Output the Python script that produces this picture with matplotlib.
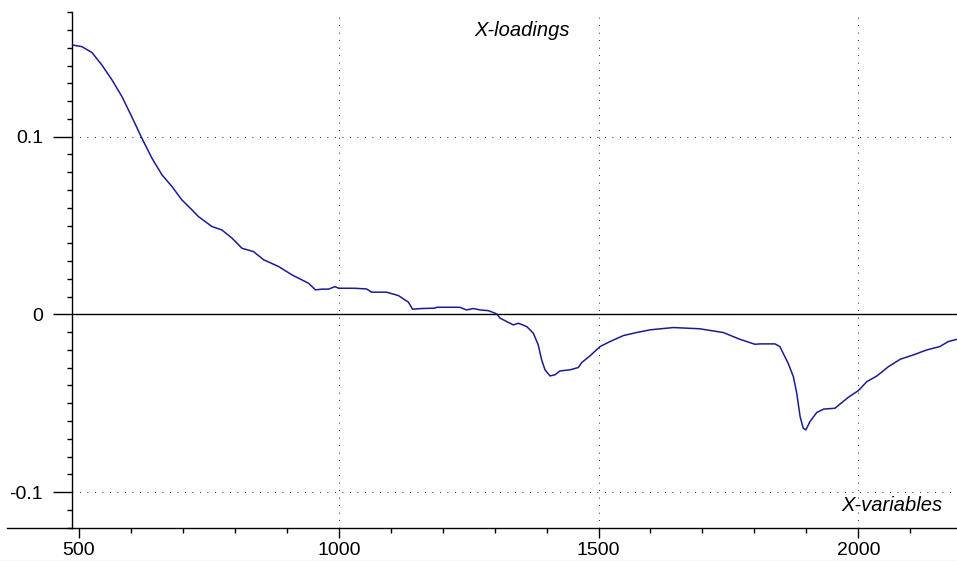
import matplotlib
matplotlib.use("Agg")
import matplotlib.pyplot as plt
from matplotlib.lines import Line2D
from matplotlib.ticker import MultipleLocator, FixedLocator

wavelength = [486.5, 505.7, 525, 544, 563.5, 582.7, 602, 621, 640.5, 659.7, 679, 698, 717.5,
              730, 756, 775, 794.5, 813.7, 836, 855.5, 884.4, 910, 942, 955, 968, 980, 992.7,
              1000, 1030, 1053.7, 1063, 1092, 1114.7, 1134, 1142, 1159.7, 1185, 1188.5, 1233,
              1246, 1259, 1272, 1288, 1304, 1310.4, 1323, 1336, 1346, 1362, 1374.5, 1384,
              1390.5, 1397, 1406.6, 1416, 1426, 1445, 1461, 1467.6, 1483.6, 1503, 1522, 1548,
              1573.5, 1599, 1644, 1695, 1740, 1772, 1801, 1811, 1839.7, 1849, 1865, 1875,
              1881.5, 1888, 1894, 1899, 1907, 1920, 1933, 1955, 1981, 2000, 2016.6, 2036, 2058,
              2081, 2106, 2131.6, 2157, 2173, 2190]
loading = [0.1516, 0.1506, 0.1473, 0.1403, 0.1319, 0.1225, 0.1109, 0.0991, 0.0878, 0.0785,
           0.0719, 0.0644, 0.0588, 0.0550, 0.0494, 0.0475, 0.0429, 0.0372, 0.0353, 0.0307,
           0.0269, 0.0222, 0.0175, 0.0138, 0.0142, 0.0142, 0.0156, 0.0147, 0.0147, 0.0143,
           0.0125, 0.0125, 0.0106, 0.0069, 0.0029, 0.0033, 0.0035, 0.0040, 0.0040, 0.0025,
           0.0033, 0.0025, 0.0021, 0.0003, -0.0021, -0.0040, -0.0059, -0.0050, -0.0069,
           -0.0106, -0.0172, -0.0256, -0.0312, -0.0346, -0.0340, -0.0318, -0.0312, -0.0299,
           -0.0271, -0.0233, -0.0181, -0.0153, -0.0119, -0.0102, -0.0087, -0.0074, -0.0081,
           -0.0102, -0.0140, -0.0168, -0.0166, -0.0166, -0.0181, -0.0275, -0.0350, -0.0443,
           -0.0575, -0.0640, -0.0650, -0.0603, -0.0552, -0.0533, -0.0528, -0.0466, -0.0429,
           -0.0378, -0.0346, -0.0294, -0.0252, -0.0228, -0.0200, -0.0181, -0.0153, -0.0140]

x_ticks = [500, 1000, 1500, 2000]
y_ticks = [-0.1, 0, 0.1]
y_tick_labels = ["-0.1", "0", "0.1"]

plt.rcParams['font.family'] = ['Liberation Sans', 'DejaVu Sans']

W, H = 957, 561
fig = plt.figure(figsize=(W / 100, H / 100), dpi=100)
left_px, bottom_px, top_px = 72, 527.7, 12.2
ax = fig.add_axes([left_px / W, (H - bottom_px) / H, 1 - left_px / W, (bottom_px - top_px) / H])

ax.set_xlim(486.5, 2190)
ax.set_ylim(-0.12, 0.17)

dot = (0, (0.75, 6.45))
for xv in x_ticks[1:]:
    ax.axvline(xv, color='black', lw=0.75, ls=dot, zorder=1)
for yv in [-0.1, 0.1]:
    ax.axhline(yv, color='black', lw=0.75, ls=dot, zorder=1)
ax.axhline(0, color='black', lw=1.0, zorder=2)

ax.plot(wavelength, loading, color='#1c1c8e', lw=1.1, zorder=3)

for s in ['top', 'right']:
    ax.spines[s].set_visible(False)
ax.spines['left'].set_linewidth(1.0)
ax.spines['bottom'].set_linewidth(1.0)

ax.xaxis.set_major_locator(FixedLocator(x_ticks))
ax.xaxis.set_minor_locator(MultipleLocator(100))
ax.yaxis.set_major_locator(FixedLocator(y_ticks))
ax.set_yticklabels(y_tick_labels)
ax.yaxis.set_minor_locator(MultipleLocator(0.01))

ax.tick_params(axis='x', which='major', direction='out', length=7.2, width=1.0, labelsize=14, pad=3)
ax.tick_params(axis='x', which='minor', direction='out', length=3.5, width=1.0)
ax.tick_params(axis='y', which='major', direction='out', length=13.7, width=1.0, labelsize=14, pad=7)
ax.tick_params(axis='y', which='minor', direction='out', length=3.6, width=1.0)

ax.text((522 - left_px) / (W - left_px), 0.965, "X-loadings", transform=ax.transAxes,
        style='italic', fontsize=14.5, ha='center', va='center')
ax.text((943 - left_px) / (W - left_px), 0.044, "X-variables", transform=ax.transAxes,
        style='italic', fontsize=14.5, ha='right', va='center')

# bottom axis line extends left of the y axis
fig.add_artist(Line2D([7 / W, left_px / W], [(H - bottom_px) / H] * 2, color='black', lw=1.0))
# faint frame line at the bottom
fig.add_artist(Line2D([0, 1], [0.5 / H, 0.5 / H], color='#d8d8d8', lw=1.0))

fig.savefig("out.png", dpi=100)
